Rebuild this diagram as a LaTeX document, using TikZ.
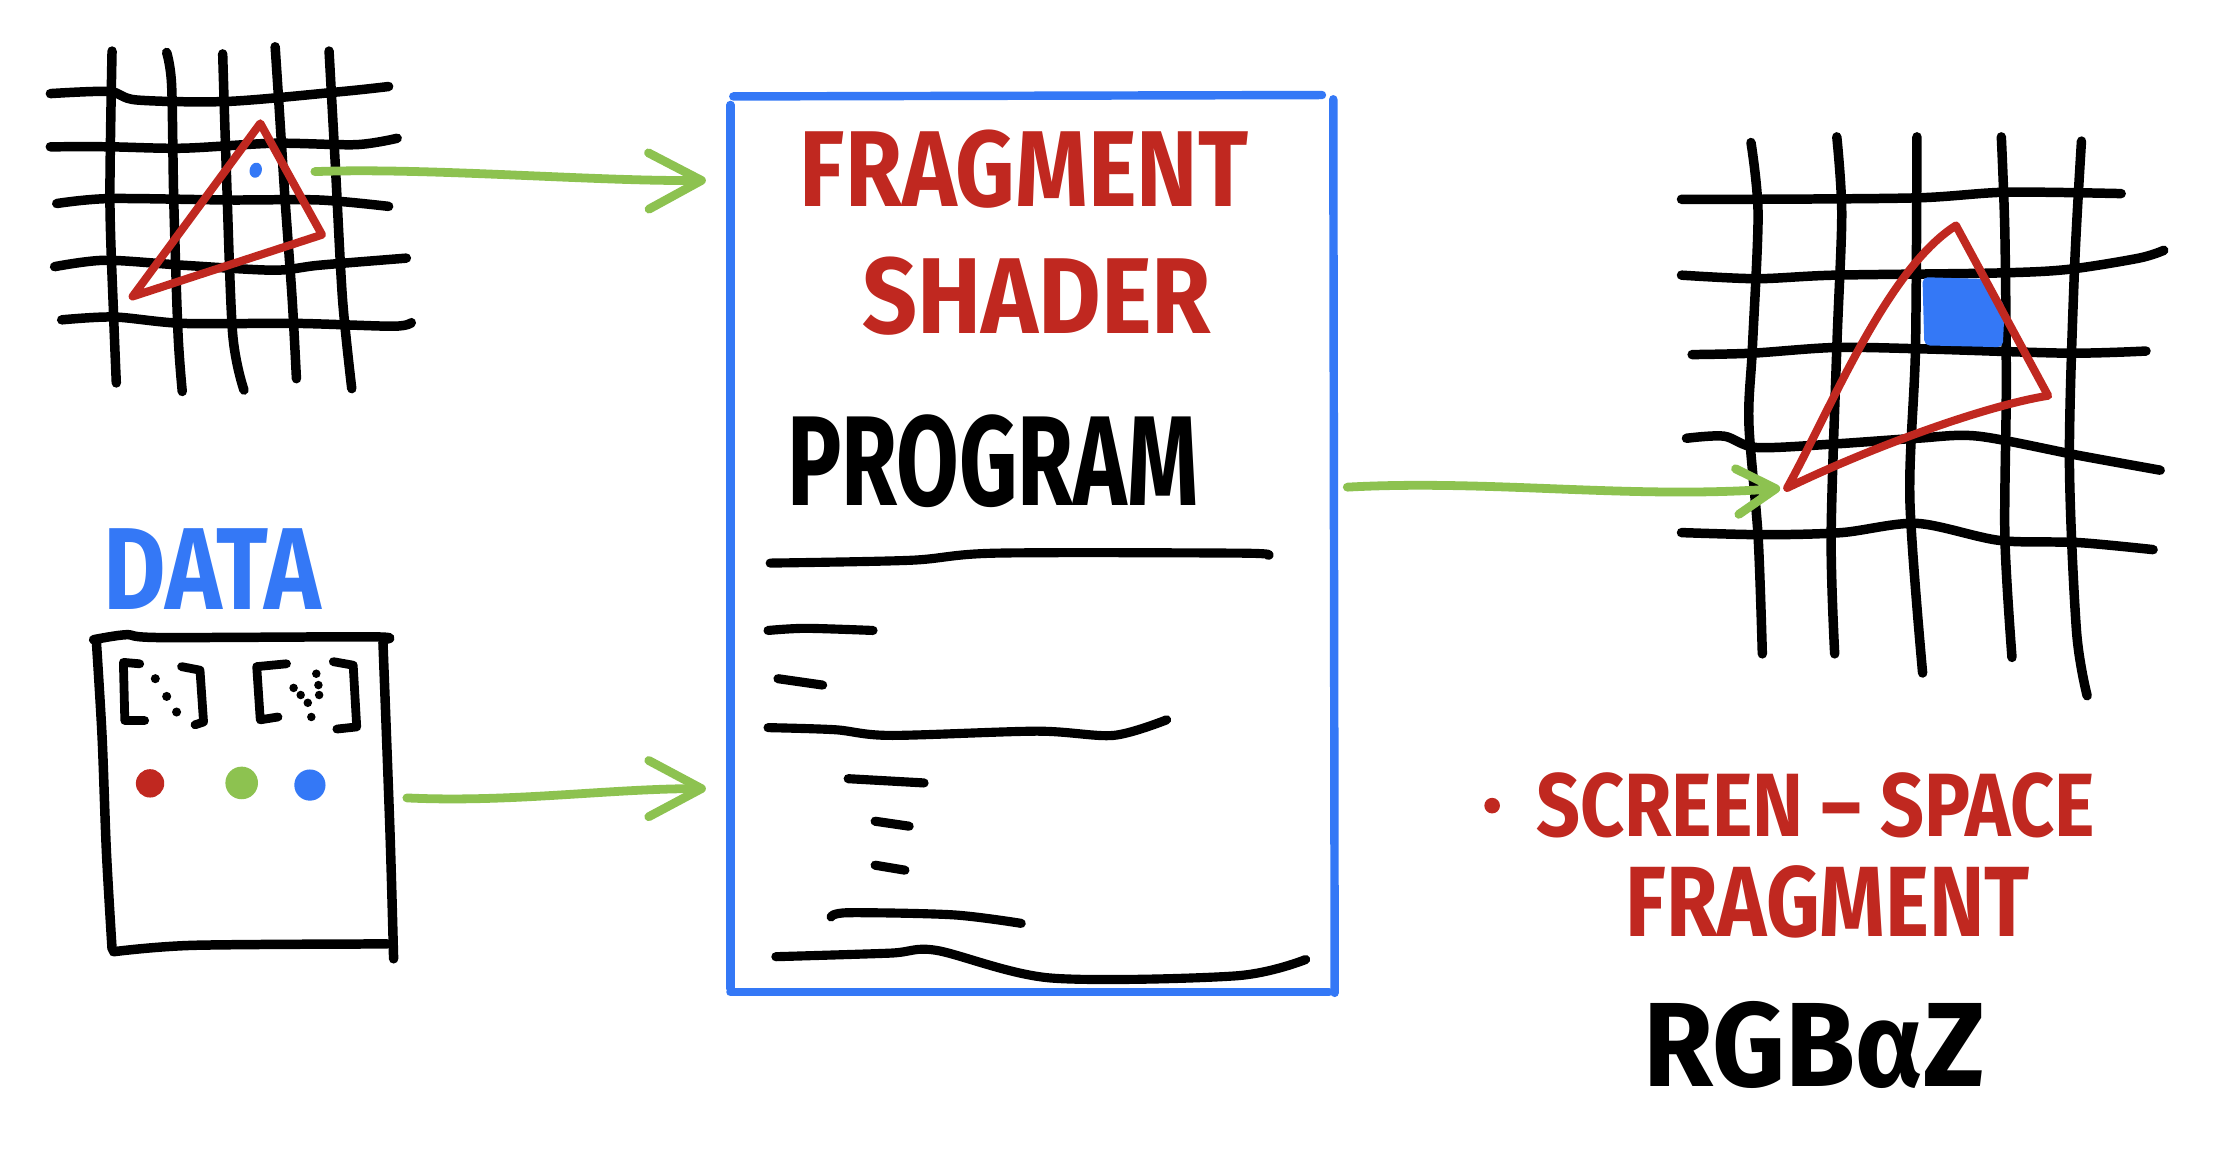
\documentclass[tikz,border=0pt]{standalone}
\usepackage{fontspec}
\setmainfont{Fira Sans}
\usepackage{graphicx}
\usetikzlibrary{arrows.meta}
\definecolor{penred}{RGB}{192,40,32}
\definecolor{penblue}{RGB}{52,120,246}
\definecolor{pengreen}{RGB}{141,194,80}
% one drawing unit in pt
\newdimen\pxu \pxu=0.40355pt
% lettering stretched to a given width and cap height (in drawing units)
\newcommand\handtext[3]{\resizebox{#1\pxu}{#2\pxu}{\bfseries #3}}

\begin{document}
\begin{tikzpicture}[x=0.40355pt, y=-0.40355pt,
  ink/.style={line width=2.7pt, line cap=round, line join=round, black},
  codeline/.style={line width=2.6pt, line cap=round, line join=round, black},
  tri/.style={draw=penred, line width=2.3pt, line join=round, line cap=round},
  frameline/.style={line width=2.4pt, line cap=round, line join=round},
  flow/.style={draw=pengreen, line width=2.5pt, line cap=round,
    -{Straight Barb[length=15pt, width=16pt, round]}},
  flowsmall/.style={flow, -{Straight Barb[length=11pt, width=13pt, round]}},
  txt/.style={inner sep=0pt, outer sep=0pt},
  framebox/.style={inner sep=0pt, outer sep=0pt}
]
\fill[white] (0,0) rectangle (1568,829);
\useasboundingbox (0,0) rectangle (1568,829);

% ---------- input grid with a triangle ----------
\draw[ink] plot[smooth] coordinates {(79,36) (77.5,141) (80,220) (82,270)};
\draw[ink] plot[smooth] coordinates {(117.5,37) (121,60) (122.5,141) (125.5,235) (128.5,276)};
\draw[ink] plot[smooth] coordinates {(157,38) (159.5,118) (164,235) (172,275)};
\draw[ink] plot[smooth] coordinates {(194,33) (196.5,71) (201,141) (206,211) (209,267)};
\draw[ink] plot[smooth] coordinates {(232,36) (236.5,118) (241.5,211) (248,274)};
\draw[ink] plot[smooth] coordinates {(35.5,66) (77,64.5) (96.5,70.5) (161,71.5) (241.5,64.5) (274,61)};
\draw[ink] plot[smooth] coordinates {(35.5,103.5) (77,103.5) (129,104.5) (193,101) (251,102) (280,97.5)};
\draw[ink] plot[smooth] coordinates {(40,143.5) (77,140) (161,141) (225,141) (274,145.5)};
\draw[ink] plot[smooth] coordinates {(38.5,188) (74,183.5) (129,187) (193,190.5) (225,187) (286.5,182)};
\draw[ink] plot[smooth] coordinates {(43.5,225.5) (80.5,223.5) (129,228) (209,228) (277,230) (290,227.5)};
\draw[tri] (183.5,87) -- (227,165.5) -- (93.5,209) -- cycle;
\fill[penblue, rotate around={-15:(180.3,120)}] (180.3,120) ellipse [x radius=4.3, y radius=5.4];
\coordinate (frag) at (222,121);

% ---------- data block ----------
\node[txt, text=penblue] (datalabel) at (149.5,401) {\handtext{153}{57}{DATA}};
\node[framebox, minimum width=81.9pt, minimum height=88pt] (data) at (173.5,559) {};
\draw[ink] plot[smooth] coordinates {(66,451) (89,447.5) (113,449.5) (263,449) (270,451)};
\draw[ink] plot[smooth] coordinates {(68,453) (72,520) (75,600) (79,669)};
\draw[ink] plot[smooth] coordinates {(80,671) (136,666.5) (273,665.5)};
\draw[ink] plot[smooth] coordinates {(270,453) (275,588) (277.5,676)};
% two vectors in brackets
\draw[ink, line width=2.5pt] (98.5,468) -- (87,467) -- (88,508) -- (102,508);
\draw[ink, line width=2.5pt] (128,470) -- (141,472.5) -- (143.5,509) -- (137.5,511);
\foreach \p in {(109.5,478.5),(117.5,491),(124.5,502)} \fill \p circle [radius=3.2];
\draw[ink, line width=2.5pt] (202,468) -- (181,470) -- (183.5,507.5) -- (196,505.5);
\draw[ink, line width=2.5pt] (235,466.5) -- (249,469) -- (251.5,512.5) -- (237.5,514);
\foreach \p in {(207,485),(212,490),(217,495.5),(223,475),(224.5,483),(225,490),(219.5,505.5)} \fill \p circle [radius=3];
% three colour samples
\fill[penred] (105.8,552.3) circle [radius=10];
\fill[pengreen] (170.4,552) circle [radius=11.5];
\fill[penblue] (218.5,553.5) circle [radius=11];

% ---------- shader program ----------
\node[framebox, minimum width=171.5pt, minimum height=254.6pt] (shader) at (727.5,383.5) {};
\draw[frameline, penblue] (517,68) -- (932,67);
\draw[frameline, penblue] (515,74) -- (515,697);
\draw[frameline, penblue] (940,70) -- (941,700);
\draw[frameline, penblue] (515,699.5) -- (937,699.5);
\node[txt, text=penred] (title1) at (722,119) {\handtext{316}{54}{FRAGMENT}};
\node[txt, text=penred] (title2) at (731,209) {\handtext{246}{54}{SHADER}};
\node[txt] (prog) at (700,325) {\handtext{290}{64}{PROGRAM}};
\draw[codeline] plot[smooth] coordinates {(543,397) (642.5,395) (702,390) (874.5,390) (894,391.5)};
\draw[codeline] plot[smooth] coordinates {(541.5,444.5) (568,443) (615.5,444.5)};
\draw[codeline] (548.5,478.5) -- (580,483);
\draw[codeline] plot[smooth] coordinates {(541.5,513) (589,514.5) (627.5,518.5) (731.5,515.5) (785,518.5) (822.5,507.5)};
\draw[codeline] (598,549) -- (651.5,552);
\draw[codeline] (617,579) -- (641,582.5);
\draw[codeline] (617,610) -- (638,613.5);
\draw[codeline] plot[smooth] coordinates {(586,646.5) (598,643.5) (672,645) (720,651)};
\draw[codeline] plot[smooth] coordinates {(547,674.5) (627.5,672) (660,670) (740.5,689.5) (871.5,688) (920.5,676.5)};

% ---------- output grid ----------
\draw[ink] plot[smooth] coordinates {(1234.5,100.5) (1239.5,151) (1235.5,245) (1233,298) (1239.5,378) (1242.5,461)};
\draw[ink] plot[smooth] coordinates {(1295,96.5) (1298.5,151) (1295,245) (1291,378) (1293.5,461)};
\draw[ink] plot[smooth] coordinates {(1351.5,96.5) (1350.5,245) (1346.5,351.5) (1355.5,474.5)};
\draw[ink] plot[smooth] coordinates {(1411,96.5) (1413.5,164.5) (1414.5,271.5) (1413.5,378.5) (1418.5,463.5)};
\draw[ink] plot[smooth] coordinates {(1467.5,99.5) (1462.5,191.5) (1459,325) (1464,445) (1471.5,490.5)};
\draw[ink] plot[smooth] coordinates {(1185.5,140.5) (1238.5,140.5) (1351.5,139.5) (1414.5,135.5) (1495.5,136.5)};
\draw[ink] plot[smooth] coordinates {(1185.5,194) (1238.5,196.5) (1293.5,194) (1407,192.5) (1457.5,190) (1508,182) (1525.5,176.5)};
\draw[ink] plot[smooth] coordinates {(1193,250) (1235.5,249) (1293.5,245) (1356.5,246) (1457.5,249) (1513,247.5)};
\draw[ink] plot[smooth] coordinates {(1189,309) (1215.5,307.5) (1238.5,315.5) (1293.5,313) (1351.5,309) (1394.5,307.5) (1465,321) (1523,331.5)};
\draw[ink] plot[smooth] coordinates {(1185.5,375.5) (1243.5,377) (1298.5,375.5) (1351.5,369) (1409.5,381) (1465,382.5) (1518,387.5)};
% covered fragment
\fill[penblue, rounded corners=1.5pt] (1355.4,195.4) -- (1399.5,196.7) -- (1413.4,215.4) -- (1412,244.8) -- (1356.7,243.5) -- cycle;
\draw[tri] (1379,159) -- (1444,279) .. controls (1400,286) and (1320,315) .. (1260,344)
  .. controls (1290,290) and (1330,190) .. (1379,159);
\coordinate (hit) at (1260,344);

% ---------- flow arrows ----------
\draw[flow, shorten >=7pt] (frag) .. controls (300,118) and (420,128) .. (shader.west |- 0,127);
\draw[flow, shorten <=4.8pt, shorten >=7pt] (data.east |- 0,562) .. controls (360,566) and (430,556) .. (shader.west |- 0,556);
\draw[flowsmall, shorten <=4pt, shorten >=2pt] (shader.east |- 0,344) .. controls (1050,338) and (1150,352) .. (hit);

% ---------- output description ----------
\fill[penred] (1052,568) circle [radius=5.5];
\node[txt, text=penred] (out1) at (1280,567.5) {\handtext{394}{45}{SCREEN – SPACE}};
\node[txt, text=penred] (out2) at (1288.5,636) {\handtext{285}{50}{FRAGMENT}};
\node[txt] (out3) at (1279.5,737) {\handtext{241}{60}{RGBαZ}};
\end{tikzpicture}
\end{document}
